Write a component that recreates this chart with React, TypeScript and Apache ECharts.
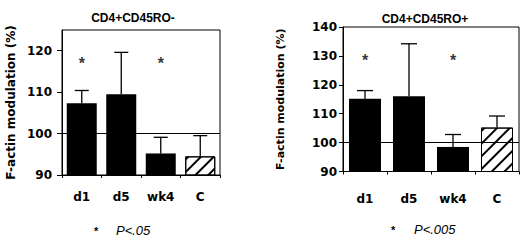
import React, { useEffect, useRef } from "react";
import * as echarts from "echarts";

// ---- data ----
const categories = ["d1", "d5", "wk4", "C"];
const leftTitle = "CD4+CD45RO-";
const rightTitle = "CD4+CD45RO+";
const yAxisName = "F-actin modulation (%)";
const leftMeans = [107.3, 109.5, 95.2, 94.5];
const leftErrors = [3.1, 10.1, 3.9, 5.0];
const rightMeans = [115.2, 116.0, 98.5, 105.2];
const rightErrors = [2.8, 18.2, 4.3, 4.0];
const leftTicks = [90, 100, 110, 120];
const rightTicks = [90, 100, 110, 120, 130, 140];
const referenceLevel = 100;
const significantIdx = [0, 2];
const leftStarLevel = 117.2;
const rightStarLevel = 128.9;
const leftNote = "P<.05";
const rightNote = "P<.005";

const SANS = "'DejaVu Sans', sans-serif";
const ARIAL = "'Liberation Sans', Arial, sans-serif";

function errorRender(capHalf: number) {
  return (params: any, api: any) => {
    const p0 = api.coord([api.value(0), api.value(1)]);
    const p1 = api.coord([api.value(0), api.value(2)]);
    return {
      type: "group",
      children: [
        { type: "line", shape: { x1: p0[0], y1: p0[1], x2: p1[0], y2: p1[1] }, style: { stroke: "#000", lineWidth: 1.3 } },
        { type: "line", shape: { x1: p1[0] - capHalf, y1: p1[1], x2: p1[0] + capHalf, y2: p1[1] }, style: { stroke: "#000", lineWidth: 1.3 } },
      ],
    };
  };
}

function barData(means: number[]) {
  return means.map((v, i) =>
    categories[i] === "C"
      ? {
          value: v,
          itemStyle: {
            color: "#fff",
            borderColor: "#000",
            borderWidth: 1,
            decal: {
              symbol: "rect",
              symbolSize: 1,
              color: "#000",
              backgroundColor: "#fff",
              dashArrayX: [1, 0],
              dashArrayY: [1.2, 7],
              rotation: -Math.PI / 4,
            },
          },
        }
      : { value: v, itemStyle: { color: "#000" } }
  );
}

function makeY(gridIndex: number, min: number, max: number, ticks: number[], nameGap: number, nameSize: number, margin: number, tickLen: number) {
  return {
    type: "value",
    gridIndex,
    min,
    max,
    interval: 10,
    name: yAxisName,
    nameLocation: "middle",
    nameGap,
    nameTextStyle: { fontFamily: SANS, fontWeight: "bold", fontSize: nameSize, color: "#000" },
    axisLine: { show: true, lineStyle: { color: "#000", width: 1 } },
    axisTick: { show: true, length: tickLen, lineStyle: { color: "#000" }, customValues: ticks },
    axisLabel: { fontFamily: SANS, fontWeight: "bold", fontSize: 12, color: "#000", margin, customValues: ticks },
    splitLine: { show: false },
  };
}

function makeX(gridIndex: number, margin: number) {
  return {
    type: "category",
    gridIndex,
    data: categories,
    axisLine: { show: true, lineStyle: { color: "#000", width: 1 } },
    axisTick: { show: true, length: 3, lineStyle: { color: "#000" } },
    axisLabel: { fontFamily: SANS, fontWeight: "bold", fontSize: 12, color: "#000", margin },
  };
}

function starData(level: number) {
  return significantIdx.map((i) => [i, level]);
}

export default function App() {
  const ref = useRef<HTMLDivElement>(null);
  useEffect(() => {
    if (!ref.current) return;
    document.body.style.margin = "0";
    const chart = echarts.init(ref.current, undefined, { renderer: "svg" });
    const starLabel = {
      show: true,
      position: "inside",
      formatter: "*",
      fontFamily: ARIAL,
      fontWeight: "bold",
      fontSize: 16,
      color: "#000",
      offset: [0, 1],
    };
    chart.setOption({
      animation: false,
      backgroundColor: "#fff",
      title: [
        { text: leftTitle, left: 128, top: 7, textAlign: "center", textStyle: { fontFamily: ARIAL, fontWeight: "bold", fontSize: 12, color: "#000" } },
        { text: rightTitle, left: 420, top: 8, textAlign: "center", textStyle: { fontFamily: ARIAL, fontWeight: "bold", fontSize: 12, color: "#000" } },
      ],
      graphic: [
        { type: "text", left: 94, top: 225, style: { text: "*", font: "bold 11px " + ARIAL, fill: "#000" } },
        { type: "text", left: 116, top: 224, style: { text: leftNote, font: "italic 13px " + ARIAL, fill: "#000" } },
        { type: "text", left: 391, top: 224, style: { text: "*", font: "bold 11px " + ARIAL, fill: "#000" } },
        { type: "text", left: 414, top: 223, style: { text: rightNote, font: "italic 13px " + ARIAL, fill: "#000" } },
      ],
      grid: [
        { left: 62, top: 30, width: 158, height: 145, show: true, borderColor: "#000", borderWidth: 1, backgroundColor: "transparent" },
        { left: 343, top: 27, width: 176, height: 144.5, show: true, borderColor: "#000", borderWidth: 1, backgroundColor: "transparent" },
      ],
      xAxis: [makeX(0, 16), makeX(1, 21)],
      yAxis: [
        makeY(0, 90, 125, leftTicks, 45, 12, 10, 5),
        makeY(1, 90, 140, rightTicks, 57, 11, 6, 4),
      ],
      series: [
        {
          type: "line",
          xAxisIndex: 0,
          yAxisIndex: 0,
          data: [],
          z: 1,
          markLine: { silent: true, symbol: "none", label: { show: false }, lineStyle: { color: "#000", width: 1, type: "solid" }, data: [{ yAxis: referenceLevel }] },
        },
        {
          type: "line",
          xAxisIndex: 1,
          yAxisIndex: 1,
          data: [],
          z: 1,
          markLine: { silent: true, symbol: "none", label: { show: false }, lineStyle: { color: "#000", width: 1, type: "solid" }, data: [{ yAxis: referenceLevel }] },
        },
        { type: "bar", xAxisIndex: 0, yAxisIndex: 0, barWidth: 30, clip: true, z: 2, data: barData(leftMeans) },
        { type: "bar", xAxisIndex: 1, yAxisIndex: 1, barWidth: 32, clip: true, z: 2, data: barData(rightMeans) },
        {
          type: "custom",
          xAxisIndex: 0,
          yAxisIndex: 0,
          z: 3,
          renderItem: errorRender(7),
          encode: { x: 0, y: [1, 2] },
          data: leftMeans.map((m, i) => [i, m, m + leftErrors[i]]),
        },
        {
          type: "custom",
          xAxisIndex: 1,
          yAxisIndex: 1,
          z: 3,
          renderItem: errorRender(8),
          encode: { x: 0, y: [1, 2] },
          data: rightMeans.map((m, i) => [i, m, m + rightErrors[i]]),
        },
        { type: "scatter", xAxisIndex: 0, yAxisIndex: 0, symbolSize: 0, z: 4, label: starLabel, data: starData(leftStarLevel) },
        { type: "scatter", xAxisIndex: 1, yAxisIndex: 1, symbolSize: 0, z: 4, label: starLabel, data: starData(rightStarLevel) },
      ],
    });
    return () => chart.dispose();
  }, []);
  return <div ref={ref} style={{ width: 520, height: 240 }} />;
}
